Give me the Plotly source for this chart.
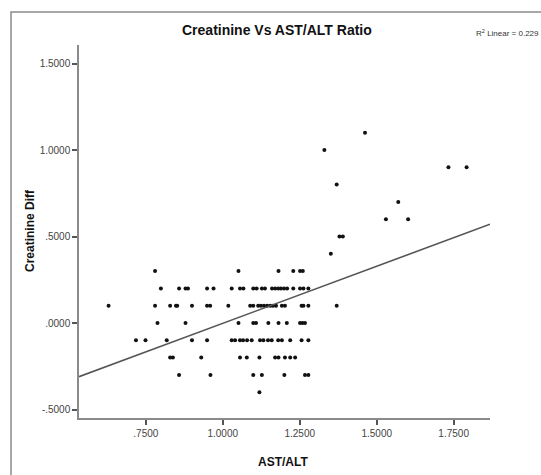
import plotly.graph_objects as go

# ---- data ----
ast_alt = [
    # row 0.3
    0.780, 1.051, 1.181, 1.229, 1.251, 1.260,
    # row 0.2
    0.799, 0.858, 0.879, 0.887, 0.949, 0.970, 1.029, 1.056, 1.067, 1.099, 1.110,
    1.127, 1.137, 1.160, 1.170, 1.180, 1.189, 1.199, 1.209, 1.229, 1.251, 1.262, 1.278,
    # row 0.1
    0.629, 0.780, 0.829, 0.848, 0.852, 0.900, 0.949, 0.959, 1.018, 1.089, 1.099,
    1.115, 1.124, 1.134, 1.144, 1.154, 1.163, 1.173, 1.192, 1.202, 1.256, 1.262, 1.278, 1.370,
    # row 0.0
    0.788, 0.879, 1.051, 1.099, 1.108, 1.148, 1.181, 1.208, 1.251, 1.259, 1.267,
    # row -0.1
    0.718, 0.749, 0.818, 0.900, 0.949, 1.029, 1.040, 1.056, 1.066, 1.079, 1.094,
    1.121, 1.132, 1.147, 1.159, 1.180, 1.192, 1.219, 1.256, 1.278,
    # row -0.2
    0.829, 0.838, 0.930, 1.056, 1.078, 1.119, 1.170, 1.181, 1.202, 1.219, 1.235,
    # row -0.3
    0.858, 0.960, 1.099, 1.127, 1.200, 1.267, 1.278,
    # row -0.4
    1.119,
    # upper points
    1.351, 1.379, 1.390, 1.370, 1.330, 1.462, 1.733, 1.792, 1.570, 1.530, 1.602,
]
creatinine_diff = (
    [0.3] * 6
    + [0.2] * 23
    + [0.1] * 24
    + [0.0] * 11
    + [-0.1] * 20
    + [-0.2] * 11
    + [-0.3] * 7
    + [-0.4] * 1
    + [0.4, 0.5, 0.5, 0.8, 1.0, 1.1, 0.9, 0.9, 0.7, 0.6, 0.6]
)

fit_x = [0.533, 1.868]
fit_y = [-0.310, 0.571]

x_tickvals = [0.75, 1.0, 1.25, 1.5, 1.75]
x_ticktext = [".7500", "1.0000", "1.2500", "1.5000", "1.7500"]
y_tickvals = [-0.5, 0.0, 0.5, 1.0, 1.5]
y_ticktext = ["-.5000", ".0000", ".5000", "1.0000", "1.5000"]

title_text = "Creatinine Vs AST/ALT Ratio"
r2_text = "R<sup>2</sup> Linear = 0.229"

FONT = "Liberation Sans, Arial, sans-serif"

fig = go.Figure()
fig.add_trace(go.Scatter(
    x=ast_alt, y=creatinine_diff, mode="markers",
    marker=dict(color="#111111", size=4, line=dict(width=0)),
    showlegend=False, hoverinfo="x+y",
))
fig.add_trace(go.Scatter(
    x=fit_x, y=fit_y, mode="lines",
    line=dict(color="#555555", width=1.6),
    showlegend=False, hoverinfo="skip",
))

W, H = 541, 475
PL, PR, PT, PB = 79, 490, 45, 418   # plot area in window pixels
L, T, R, B = PL, PT, W - PR, H - PB
pw, ph = PR - PL, PB - PT

def px(xp):
    return (xp - PL) / pw

def py(yp):
    return (PB - yp) / ph

fig.update_layout(
    width=W, height=H,
    margin=dict(l=L, r=R, t=T, b=B, pad=0),
    paper_bgcolor="white", plot_bgcolor="white",
    font=dict(family=FONT, size=10, color="#333333"),
    xaxis=dict(
        range=[0.533, 1.868], tickvals=x_tickvals, ticktext=x_ticktext,
        showgrid=False, zeroline=False, showline=True, linecolor="#8a8a8a", linewidth=1.5,
        ticks="outside", ticklen=5, tickcolor="#555555", tickwidth=1.5,
        tickfont=dict(size=10, color="#444444"), mirror=False,
    ),
    yaxis=dict(
        range=[-0.549, 1.607], tickvals=y_tickvals, ticktext=y_ticktext,
        showgrid=False, zeroline=False, showline=True, linecolor="#8a8a8a", linewidth=1.5,
        ticks="outside", ticklen=5, tickcolor="#555555", tickwidth=1.5,
        tickfont=dict(size=10, color="#444444"), mirror=False,
    ),
    shapes=[dict(
        type="rect", xref="paper", yref="paper",
        x0=px(11), x1=px(560), y0=py(490), y1=py(12),
        line=dict(color="#8a8a8a", width=1.5), fillcolor="rgba(0,0,0,0)", layer="below",
    )],
    annotations=[
        dict(text="<b>" + title_text + "</b>", xref="paper", yref="paper",
             x=px(277), y=py(30), showarrow=False, xanchor="center", yanchor="middle",
             font=dict(family=FONT, size=14, color="#111111")),
        dict(text=r2_text, xref="paper", yref="paper",
             x=px(541), y=py(33), showarrow=False, xanchor="right", yanchor="middle",
             font=dict(family=FONT, size=8, color="#333333")),
        dict(text="<b>Creatinine Diff</b>", xref="paper", yref="paper",
             x=px(30), y=py(231), showarrow=False, xanchor="center", yanchor="middle",
             textangle=-90, font=dict(family=FONT, size=12, color="#111111")),
        dict(text="<b>AST/ALT</b>", xref="paper", yref="paper",
             x=px(283), y=py(462), showarrow=False, xanchor="center", yanchor="middle",
             font=dict(family=FONT, size=12, color="#111111")),
    ],
)

fig.write_html(
    "out.html",
    config={"displayModeBar": False},
    post_script="document.body.style.margin='0';document.body.style.overflow='hidden';",
)
